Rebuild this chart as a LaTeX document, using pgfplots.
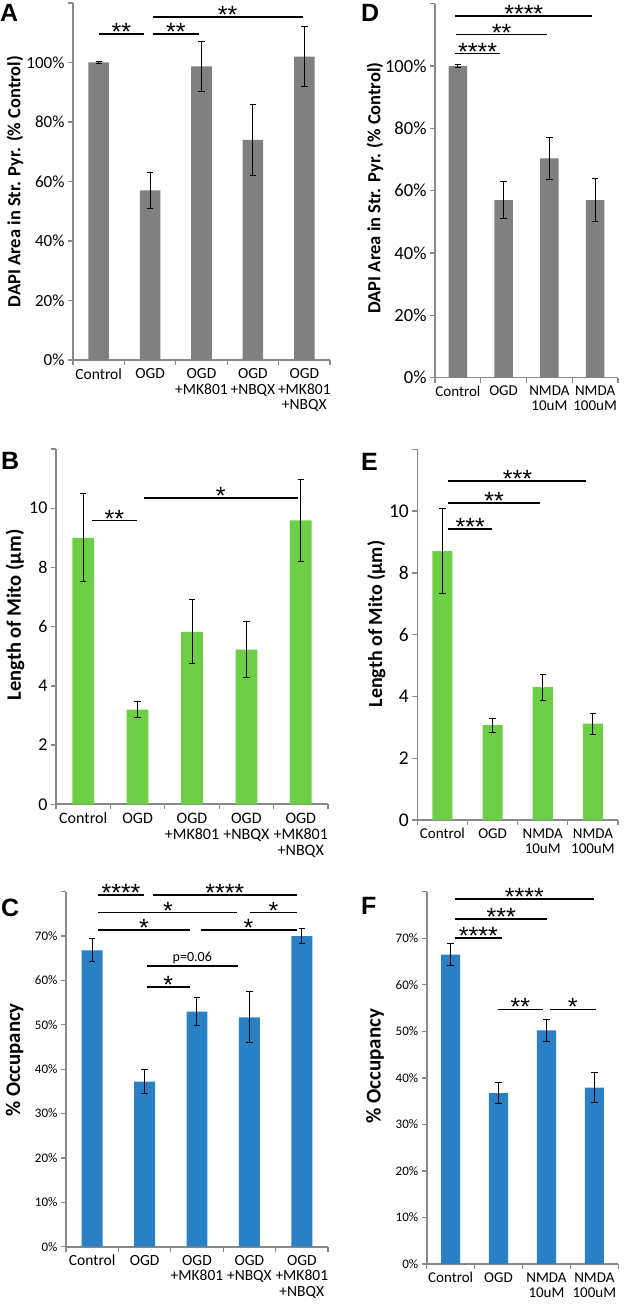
\documentclass[border=0pt]{standalone}
\usepackage{fontspec}
\setmainfont{Carlito}
\newfontfamily\letterfont{Liberation Sans}
\usepackage{pgfplots}
\pgfplotsset{compat=1.18}

\definecolor{axgray}{HTML}{898989}
\definecolor{bargray}{HTML}{808080}
\definecolor{bargreen}{HTML}{6CCF45}
\definecolor{barblue}{HTML}{2A80C4}

\newcommand{\fs}[1]{\fontsize{#1}{#1}\selectfont}

\pgfplotsset{
  /pgf/number format/assume math mode=true,
  panel/.style={
    scale only axis, anchor=south west, clip=false,
    axis x line*=bottom, axis y line*=left,
    axis line style={-, draw=axgray, line width=1.6pt},
    ybar, bar width=0.4, ymin=0, xmin=-0.5,
    tick align=outside,
    major tick length=5pt, minor tick length=5pt,
    major x tick style={draw=none},
    minor x tick style={draw=axgray, line width=1.3pt},
    ytick style={draw=axgray, line width=1.3pt},
    xticklabel style={align=center, text=black},
    yticklabel style={text=black},
  },
  errs/.style={draw=none,
    error bars/.cd, y dir=both, y explicit,
    error bar style={black, line width=1pt},
    error mark options={rotate=90, black, mark size=3.2pt, line width=1pt}},
}
\tikzset{
  sig/.style={black, line width=1.7pt},
  stars/.style={font=\letterfont\fs{25}, anchor=base, inner sep=0pt, yshift=-6.5pt},
}

\begin{document}
\begin{tikzpicture}
\useasboundingbox (0pt,0pt) rectangle (625pt,1305pt);

% ---- A ----
\begin{axis}[panel, at={(73pt,945pt)}, width=257pt, height=357pt,
  xmax=4.5, ymax=120, xtick={0,...,4}, minor xtick={-0.5,0.5,...,4.5},
  xticklabels={Control,OGD,OGD\\+MK801,OGD\\+NBQX,OGD\\+MK801\\+NBQX},
  ytick={0,20,...,120}, yticklabels={0\%,20\%,40\%,60\%,80\%,100\%,{}},
  xticklabel style={font=\fs{15.5}}, yticklabel style={font=\fs{17}}]
\addplot[fill=bargray, errs] coordinates {
  (0,100) +- (0,0.4) (1,57) +- (0,6) (2,98.7) +- (0,8.3) (3,74) +- (0,12) (4,102) +- (0,10)};
\draw[sig] (axis cs:0,109.6) -- (axis cs:0.88,109.6) node[midway,stars] {**};
\draw[sig] (axis cs:1.05,109.6) -- (axis cs:1.95,109.6) node[midway,stars] {**};
\draw[sig] (axis cs:1.05,115.2) -- (axis cs:3.97,115.2) node[midway,stars] {**};
\end{axis}

% ---- D ----
\begin{axis}[panel, at={(435pt,927.3pt)}, width=183pt, height=374pt,
  xmax=3.5, ymax=120, xtick={0,...,3}, minor xtick={-0.5,0.5,...,3.5},
  xticklabels={Control,OGD,NMDA\\10uM,NMDA\\100uM},
  ytick={0,20,...,120}, yticklabels={0\%,20\%,40\%,60\%,80\%,100\%,{}},
  xticklabel style={font=\fs{15}}, yticklabel style={font=\fs{18.5}}]
\addplot[fill=bargray, errs] coordinates {
  (0,100) +- (0,0.4) (1,57) +- (0,6) (2,70.4) +- (0,6.8) (3,57) +- (0,7)};
\draw[sig] (axis cs:-0.06,104) -- (axis cs:0.92,104) node[midway,stars] {****};
\draw[sig] (axis cs:-0.04,110.1) -- (axis cs:1.95,110.1) node[midway,stars] {**};
\draw[sig] (axis cs:-0.06,116.1) -- (axis cs:2.94,116.1) node[midway,stars] {****};
\end{axis}

% ---- B ----
\begin{axis}[panel, at={(56pt,500.7pt)}, width=272pt, height=355.3pt,
  xmax=4.5, ymax=12, xtick={0,...,4}, minor xtick={-0.5,0.5,...,4.5},
  xticklabels={Control,OGD,OGD\\+MK801,OGD\\+NBQX,OGD\\+MK801\\+NBQX},
  ytick={0,2,...,12}, yticklabels={0,2,4,6,8,10,{}},
  xticklabel style={font=\fs{16}}, yticklabel style={font=\fs{18}}]
\addplot[fill=bargreen, errs] coordinates {
  (0,9.0) +- (0,1.48) (1,3.2) +- (0,0.28) (2,5.82) +- (0,1.08) (3,5.22) +- (0,0.95) (4,9.59) +- (0,1.38)};
\draw[sig] (axis cs:0.155,9.58) -- (axis cs:0.99,9.58) node[midway,stars] {**};
\draw[sig] (axis cs:1.12,10.34) -- (axis cs:3.94,10.34) node[midway,stars] {*};
\end{axis}

% ---- E ----
\begin{axis}[panel, at={(417.3pt,485pt)}, width=200.7pt, height=370.7pt,
  xmax=3.5, ymax=12, xtick={0,...,3}, minor xtick={-0.5,0.5,...,3.5},
  xticklabels={Control,OGD,NMDA\\10uM,NMDA\\100uM},
  ytick={0,2,...,12}, yticklabels={0,2,4,6,8,10,{}},
  xticklabel style={font=\fs{15}}, yticklabel style={font=\fs{19.5}}]
\addplot[fill=bargreen, errs] coordinates {
  (0,8.7) +- (0,1.37) (1,3.07) +- (0,0.23) (2,4.3) +- (0,0.42) (3,3.12) +- (0,0.34)};
\draw[sig] (axis cs:0.12,9.43) -- (axis cs:0.99,9.43) node[midway,stars] {***};
\draw[sig] (axis cs:0.12,10.26) -- (axis cs:1.94,10.26) node[midway,stars] {**};
\draw[sig] (axis cs:0.12,10.98) -- (axis cs:2.87,10.98) node[midway,stars] {***};
\end{axis}

% ---- C ----
\begin{axis}[panel, at={(66pt,58.3pt)}, width=262pt, height=355pt,
  xmax=4.5, ymax=80, xtick={0,...,4}, minor xtick={-0.5,0.5,...,4.5},
  xticklabels={Control,OGD,OGD\\+MK801,OGD\\+NBQX,OGD\\+MK801\\+NBQX},
  ytick={0,10,...,80}, yticklabels={0\%,10\%,20\%,30\%,40\%,50\%,60\%,70\%,{}},
  xticklabel style={font=\fs{15.5}}, yticklabel style={font=\fs{13}}]
\addplot[fill=barblue, errs] coordinates {
  (0,66.8) +- (0,2.6) (1,37.2) +- (0,2.7) (2,53) +- (0,3.1) (3,51.7) +- (0,5.7) (4,70) +- (0,1.7)};
\draw[sig] (axis cs:0.12,79.3) -- (axis cs:0.98,79.3) node[midway,stars] {****};
\draw[sig] (axis cs:1.16,79.3) -- (axis cs:3.9,79.3) node[midway,stars] {****};
\draw[sig] (axis cs:0.12,75.3) -- (axis cs:2.77,75.3) node[midway,stars] {*};
\draw[sig] (axis cs:3.02,75.3) -- (axis cs:3.9,75.3) node[midway,stars] {*};
\draw[sig] (axis cs:0.12,71.4) -- (axis cs:1.86,71.4) node[midway,stars] {*};
\draw[sig] (axis cs:2.07,71.4) -- (axis cs:3.9,71.4) node[midway,stars] {*};
\draw[sig] (axis cs:1.04,63.2) -- (axis cs:2.78,63.2) node[midway,anchor=base,yshift=5pt,inner sep=0pt,font=\fs{14}] {p=0.06};
\draw[sig] (axis cs:1.04,58.6) -- (axis cs:1.86,58.6) node[midway,stars] {*};
\end{axis}

% ---- F ----
\begin{axis}[panel, at={(426.7pt,41pt)}, width=191.6pt, height=372.3pt,
  xmax=3.5, ymax=80, xtick={0,...,3}, minor xtick={-0.5,0.5,...,3.5},
  xticklabels={Control,OGD,NMDA\\10uM,NMDA\\100uM},
  ytick={0,10,...,80}, yticklabels={0\%,10\%,20\%,30\%,40\%,50\%,60\%,70\%,{}},
  xticklabel style={font=\fs{15}}, yticklabel style={font=\fs{13}}]
\addplot[fill=barblue, errs] coordinates {
  (0,66.5) +- (0,2.4) (1,36.7) +- (0,2.2) (2,50.2) +- (0,2.3) (3,37.9) +- (0,3.2)};
\draw[sig] (axis cs:0.09,70.0) -- (axis cs:1.065,70.0) node[midway,stars] {****};
\draw[sig] (axis cs:0.09,74.2) -- (axis cs:2.02,74.2) node[midway,stars] {***};
\draw[sig] (axis cs:0.09,78.5) -- (axis cs:2.99,78.5) node[midway,stars] {****};
\draw[sig] (axis cs:0.98,54.7) -- (axis cs:1.93,54.7) node[midway,stars] {**};
\draw[sig] (axis cs:2.07,54.7) -- (axis cs:3.03,54.7) node[midway,stars] {*};
\end{axis}

% panel letters
\foreach \L/\x/\y in {A/0/1301, D/361/1301, B/1/853, E/361/852, C/1/406, F/361/408}
  \node[anchor=north west, inner sep=0pt, font=\letterfont\bfseries\fs{25}] at (\x pt,\y pt) {\L};

% y axis titles
\node[rotate=90, font=\bfseries\fs{18.5}] at (15pt,1123.5pt) {DAPI Area in Str. Pyr. (\% Control)};
\node[rotate=90, font=\bfseries\fs{18.5}] at (375pt,1117pt) {DAPI Area in Str. Pyr. (\% Control)};
\node[rotate=90, font=\bfseries\fs{20.5}] at (15pt,690pt) {Length of Mito (µm)};
\node[rotate=90, font=\bfseries\fs{20}] at (376.5pt,681pt) {Length of Mito (µm)};
\node[rotate=90, font=\bfseries\fs{20.8}] at (14.5pt,245pt) {\% Occupancy};
\node[rotate=90, font=\bfseries\fs{21}] at (375pt,239pt) {\% Occupancy};
\end{tikzpicture}
\end{document}
